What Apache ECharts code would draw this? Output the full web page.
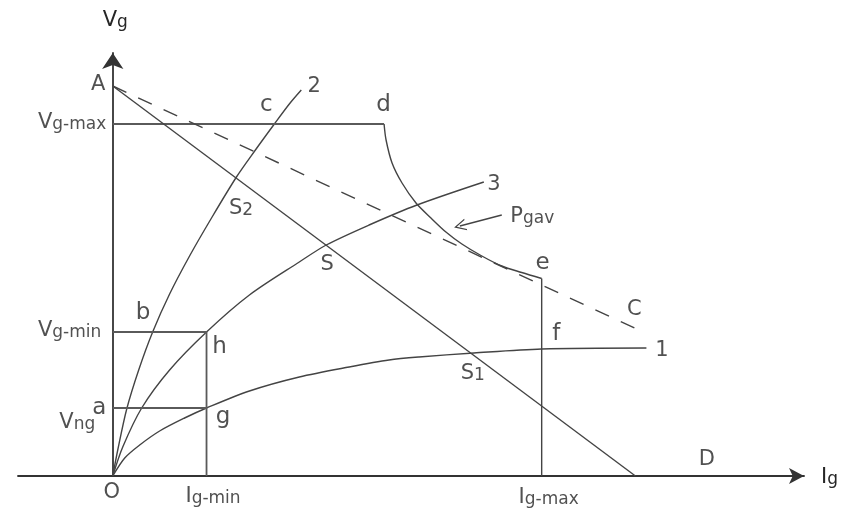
<!DOCTYPE html>
<html>
<head>
<meta charset="utf-8">
<script src="https://cdn.jsdelivr.net/npm/echarts@6/dist/echarts.min.js"></script>
<style>
  html, body { margin: 0; padding: 0; background: #fff; }
  #chart { width: 841px; height: 508px; }
</style>
</head>
<body>
<div id="chart"></div>
<script>
// Grid voltage Vg against grid current Ig: characteristics 1, 2, 3,
// load line A–D, tangent A–C and the dissipation limit Pgav (arbitrary units).

// Characteristic curves (Ig, Vg)
const curve1I = [0, 1.2, 2.7, 4.7, 7.2, 9.4, 13.7, 18.7, 23.7, 27.7, 30.7, 36.2, 43.0, 53.5];
const curve1V = [0, 1.8, 3.1, 4.5, 5.8, 6.8, 8.5, 9.9, 10.9, 11.6, 11.9, 12.3, 12.7, 12.8];
const curve2I = [0, 0.5, 1.4, 2.6, 4.0, 5.7, 7.7, 9.9, 12.4, 14.3, 16.2, 17.7, 18.9];
const curve2V = [0, 2.6, 6.7, 10.6, 14.4, 18.2, 22.0, 25.8, 29.9, 32.6, 35.2, 37.2, 38.6];
const curve3I = [0, 1.0, 2.9, 5.7, 9.4, 13.7, 18.7, 21.4, 25.7, 30.5, 37.2];
const curve3V = [0, 2.9, 6.8, 10.6, 14.4, 18.1, 21.4, 23.1, 25.1, 27.1, 29.4];

// Dissipation limit Pgav, from d down to e
const pgavI = [27.2, 27.4, 28.0, 29.0, 30.4, 31.9, 33.4, 35.0, 37.0, 39.0, 41.0, 43.0];
const pgavV = [35.2, 33.6, 31.3, 29.3, 27.3, 25.8, 24.4, 23.2, 22.0, 21.0, 20.35, 19.75];

// Limits on the axes
const vgMax = 35.2;
const vgMin = 14.4;
const vNg = 6.8;
const igMin = 9.4;
const igMax = 43.0;

// Load line A–D and dashed tangent A–C
const pointA = [0, 39.0];
const pointD = [52.4, 0];
const pointC = [52.3, 14.8];

// Pointer to the Pgav curve (tail, head)
const pgavPointer = [[39.0, 26.1], [34.8, 25.0]];

const pts = (xs, ys) => xs.map((x, i) => [x, ys[i]]);
const c1 = pts(curve1I, curve1V);
const c2 = pts(curve2I, curve2V);
const c3 = pts(curve3I, curve3V);
const pg = pts(pgavI, pgavV);

const FONT = 'DejaVu Sans';
const INK = '#262626';
const rich = {
  m: { fontSize: 21, lineHeight: 24, verticalAlign: 'bottom', fontFamily: FONT, color: INK },
  s: { fontSize: 17, lineHeight: 20, verticalAlign: 'bottom', fontFamily: FONT, color: INK },
  l: { fontSize: 23, lineHeight: 26, fontFamily: FONT, color: INK }
};

const curveStyle = { color: '#444', width: 1.4 };
const guideStyle = { color: '#5a5a5a', width: 1.8 };

function path(name, data, style, smooth) {
  return {
    name, type: 'line', data, smooth: smooth || false,
    showSymbol: false, symbol: 'none', silent: true,
    lineStyle: style, emphasis: { disabled: true }, z: 2
  };
}

function tag(text, at, offset, extra) {
  return {
    value: at,
    label: Object.assign({ formatter: text, offset: offset }, extra)
  };
}

const last = (arr) => arr[arr.length - 1];

const notes = [
  tag('{m|A}', pointA, [-14.5, -3]),
  tag('{m|C}', pointC, [0, -20]),
  tag('{m|D}', pointD, [71.5, -17.5]),
  tag('{m|O}', [0, 0], [-1, 15]),
  tag('{m|1}', last(c1), [15.5, 1]),
  tag('{m|2}', last(c2), [13, -5]),
  tag('{m|3}', last(c3), [10, 1.5]),
  tag('{l|c}', c2[10], [-8, -18.7]),
  tag('{l|b}', c2[4], [-9.5, -19]),
  tag('{l|d}', pg[0], [-0.5, -19.3]),
  tag('{l|e}', last(pg), [1, -15]),
  tag('{l|f}', c1[12], [14.5, -15]),
  tag('{l|g}', c1[5], [16.5, 9]),
  tag('{l|h}', c3[4], [13, 15]),
  tag('{l|a}', [0, vNg], [-13.5, 0]),
  tag('{m|S}', c3[7], [1, 18.5]),
  tag('{m|S}{s|1}', c1[11], [-1, 19.5]),
  tag('{m|S}{s|2}', c2[8], [4.5, 30.5]),
  tag('{m|I}{s|g-min}', [igMin, 0], [6.5, 19]),
  tag('{m|I}{s|g-max}', [igMax, 0], [7, 20]),
  tag('{m|V}{s|g-max}', [0, vgMax], [0, -3], { position: 'left', distance: 6 }),
  tag('{m|V}{s|g-min}', [0, vgMin], [0, -2.5], { position: 'left', distance: 11 }),
  tag('{m|V}{s|ng}', [0, vNg], [0, 13], { position: 'left', distance: 17 }),
  tag('{m|P}{s|gav}', pgavPointer[0], [0, 0], { position: 'right', distance: 8 })
];

const chart = echarts.init(document.getElementById('chart'), null, { renderer: 'canvas' });
chart.setOption({
  animation: false,
  backgroundColor: '#fff',
  grid: { left: 18, right: 35, top: 53, bottom: 32 },
  xAxis: {
    type: 'value', min: -9.5, max: 69.3,
    name: '{m|I}{s|g}', nameLocation: 'end', nameGap: 17,
    nameTextStyle: { rich },
    axisLine: {
      show: true, onZero: true,
      symbol: ['none', 'arrow'], symbolSize: [12, 15],
      lineStyle: { color: '#333', width: 1.8 }
    },
    axisTick: { show: false }, axisLabel: { show: false }, splitLine: { show: false }
  },
  yAxis: {
    type: 'value', min: 0, max: 42.3,
    name: '{m|V}{s|g}', nameLocation: 'end', nameGap: 22,
    nameTextStyle: { rich, padding: [0, 0, 0, 5] },
    axisLine: {
      show: true, onZero: true,
      symbol: ['none', 'arrow'], symbolSize: [16, 16],
      lineStyle: { color: '#333', width: 1.8 }
    },
    axisTick: { show: false }, axisLabel: { show: false }, splitLine: { show: false }
  },
  series: [
    path('curve 1', c1, curveStyle, 0.3),
    path('curve 2', c2, curveStyle, 0.3),
    path('curve 3', c3, curveStyle, 0.3),
    path('Pgav', pg, curveStyle, 0.3),
    path('Vg-max', [[0, vgMax], pg[0]], guideStyle),
    path('Vg-min / Ig-min', [[0, vgMin], [igMin, vgMin], [igMin, 0]], guideStyle),
    path('Vng', [[0, vNg], [igMin, vNg]], guideStyle),
    path('Ig-max', [last(pg), [igMax, 0]], curveStyle),
    path('load line A-D', [pointA, pointD], curveStyle),
    path('tangent A-C', [pointA, pointC], { color: '#444', width: 1.4, type: [15, 13] }),
    {
      name: 'pointer', type: 'lines', coordinateSystem: 'cartesian2d', silent: true,
      symbol: ['none', 'path://M0,12 L6,0 L12,12 L10.6,12 L6,2.8 L1.4,12 Z'],
      symbolSize: [11, 12],
      lineStyle: { color: '#444', width: 1.3, opacity: 1 },
      data: [{ coords: pgavPointer }], z: 3
    },
    {
      name: 'notes', type: 'scatter', silent: true, z: 5,
      symbolSize: 1, itemStyle: { color: 'rgba(0,0,0,0)' },
      label: { show: true, position: 'inside', rich },
      emphasis: { disabled: true },
      data: notes
    }
  ]
});
</script>
</body>
</html>
